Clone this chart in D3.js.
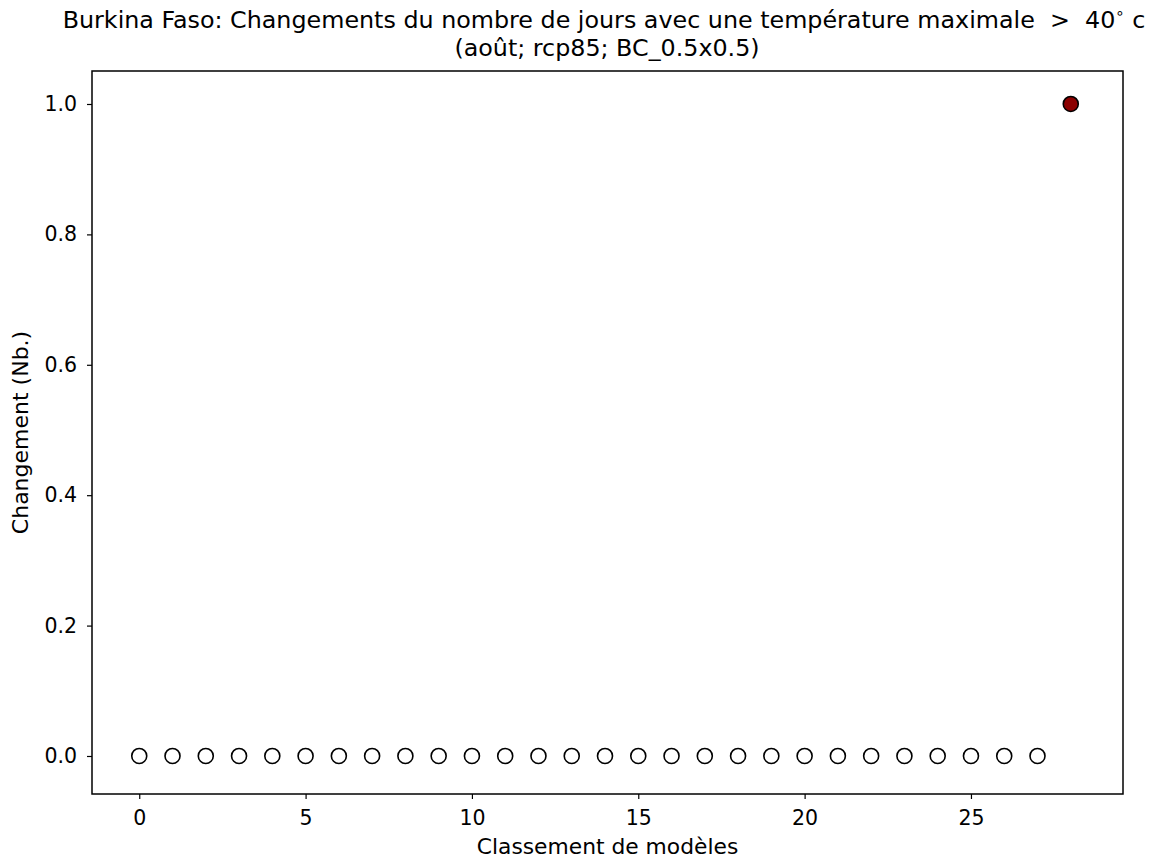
<!DOCTYPE html>
<html><head><meta charset="utf-8">
<script src="https://cdn.jsdelivr.net/npm/d3@7"></script>
<style>body{margin:0;background:#fff;} text{font-family:"DejaVu Sans",sans-serif;fill:#000;}</style>
</head><body>
<svg id="c" width="1164" height="861"></svg>
<script>
const titleMain = "Burkina Faso: Changements du nombre de jours avec une température maximale  >  40";
const titleDeg = "\u2218";
const titleUnit = "c";
const titleLine2 = "(août; rcp85; BC_0.5x0.5)";
const xLabel = "Classement de modèles";
const yLabel = "Changement (Nb.)";
const ranks = d3.range(29);
const values = [0,0,0,0,0,0,0,0,0,0,0,0,0,0,0,0,0,0,0,0,0,0,0,0,0,0,0,0,1];
const highlight = [false,false,false,false,false,false,false,false,false,false,false,false,false,false,false,false,false,false,false,false,false,false,false,false,false,false,false,false,true];
const xTicks = [0,5,10,15,20,25];
const yTicks = [0.0,0.2,0.4,0.6,0.8,1.0];

const L=92,R=1123,T=71,B=794;
const svg=d3.select("#c");
const x=d3.scaleLinear().domain([-1.42,29.57]).range([L,R]);
const y=d3.scaleLinear().domain([-0.0583,1.0506]).range([B,T]);

const gx=svg.append("g").attr("transform",`translate(0,${B})`)
  .call(d3.axisBottom(x).tickValues(xTicks).tickFormat(d3.format("d")).tickSize(5).tickPadding(9));
const gy=svg.append("g").attr("transform",`translate(${L},0)`)
  .call(d3.axisLeft(y).tickValues(yTicks).tickFormat(d3.format(".1f")).tickSize(5).tickPadding(10));
[gx,gy].forEach(g=>{g.select(".domain").remove();g.selectAll("line").attr("stroke","#000").attr("stroke-width",1.2);
  g.selectAll("text").attr("font-size",20.5).attr("font-family","DejaVu Sans");});
gx.selectAll("text").attr("dy","0.85em");

svg.append("rect").attr("x",L).attr("y",T).attr("width",R-L).attr("height",B-T)
  .attr("fill","none").attr("stroke","#000").attr("stroke-width",1.5);

svg.append("g").selectAll("circle").data(ranks).join("circle")
  .attr("cx",d=>x(d)).attr("cy",d=>y(values[d])).attr("r",7.5)
  .attr("fill",d=>highlight[d]?"#8b0000":"#fff").attr("stroke","#000").attr("stroke-width",1.6);

const t1=svg.append("text").attr("x",604).attr("y",28).attr("text-anchor","middle").attr("font-size",23.8).style("white-space","pre");
t1.append("tspan").text(titleMain);
t1.append("tspan").attr("font-size",15).attr("dy",-10).text(titleDeg);
t1.append("tspan").attr("dy",10).text(" "+titleUnit);
svg.append("text").attr("x",607).attr("y",56).attr("text-anchor","middle").attr("font-size",23.8).text(titleLine2);
svg.append("text").attr("x",(L+R)/2).attr("y",854).attr("text-anchor","middle").attr("font-size",21.8).text(xLabel);
svg.append("text").attr("transform",`translate(28,${(T+B)/2}) rotate(-90)`).attr("text-anchor","middle").attr("font-size",22).text(yLabel);
</script>
</body></html>
